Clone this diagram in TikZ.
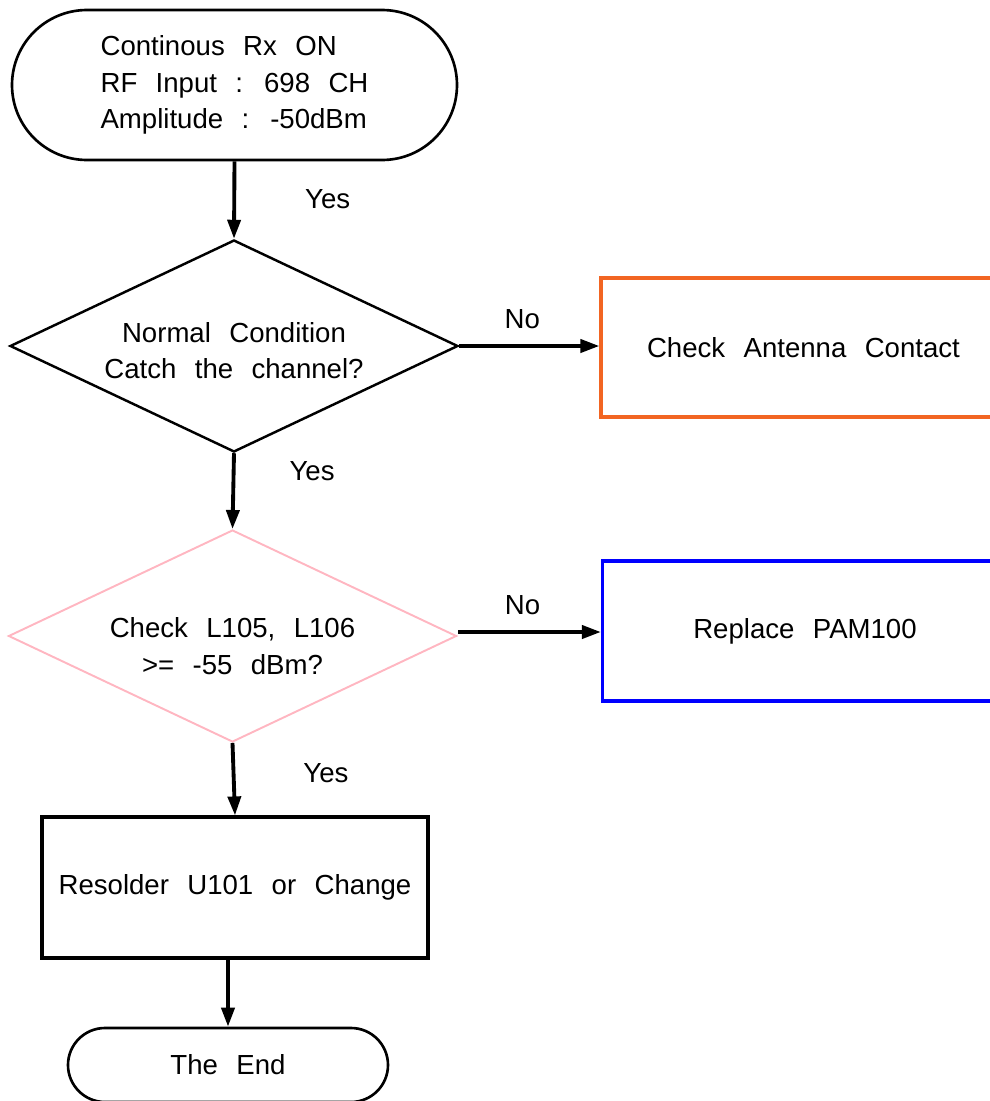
\documentclass[tikz,border=0pt]{standalone}
\usepackage{fontspec}
\setmainfont[WordSpace=2.4]{Liberation Sans}
\usepackage{tikz}
\usetikzlibrary{arrows.meta,positioning,shapes.geometric,shapes.misc}
\definecolor{cInk}{HTML}{000000}
\definecolor{cOrange}{HTML}{F26522}
\definecolor{cBlue}{HTML}{0000FF}
\definecolor{cPink}{HTML}{FFB6C1}
\newcommand{\flowfont}{\fontsize{15.7}{20.8}\selectfont}
\tikzset{
  term/.style={draw=cInk,rounded rectangle,line width=1.5pt,align=center,font=\flowfont,inner sep=0pt},
  dbox/.style={draw=#1,diamond,aspect=2.1,line width=1.4pt,inner sep=0pt,minimum width=8.96cm,minimum height=4.24cm},
  dbox/.default=cInk,
  pbox/.style={draw=#1,rectangle,line width=1.8pt,align=center,font=\flowfont,inner sep=0pt},
  pbox/.default=cInk,
  arr/.style={-{Triangle[length=0.38cm,width=0.26cm]},line width=2.2pt,color=cInk},
  lbl/.style={font=\flowfont,text=cInk,inner sep=0pt,align=center},
}

\begin{document}
\begin{tikzpicture}[x=1cm,y=1cm]
    \useasboundingbox (0,0) rectangle (19.8,-22.02);
    \clip (0,0) rectangle (19.8,-22.02);
    % flow column
    \node[term,minimum width=8.9cm,minimum height=3cm,align=left] (start) at (4.69,-1.70) {Continous Rx ON\\RF Input : 698 CH\\Amplitude : -50dBm};
    \node[dbox] (cond) at (4.68,-6.92) {};
    \node[lbl] (condtxt) at ([yshift=-0.09cm]cond.center) {Normal Condition\\Catch the channel?};
    \node[dbox=cPink,line width=1.1pt] (check) at (4.65,-12.72) {};
    \node[lbl] (checktxt) at ([yshift=-0.2cm]check.center) {Check L105, L106\\>= -55 dBm?};
    \node[pbox,minimum width=7.72cm,minimum height=2.82cm] (resolder) at (4.70,-17.75) {Resolder U101 or Change};
    \node[term,minimum width=6.4cm,minimum height=1.48cm] (theend) at (4.56,-21.30) {The End};
    % repair boxes
    \node[pbox=cOrange,minimum width=8.1cm,minimum height=2.78cm] (antenna) at (16.07,-6.95) {Check Antenna Contact};
    \node[pbox=cBlue,minimum width=8.1cm,minimum height=2.8cm] (pam) at (16.1,-12.62) {Replace PAM100};
    % connectors
    \draw[arr] (start.south) -- (cond.north) node[lbl,pos=0.49,right=1.38cm] (yes1) {Yes};
    \draw[arr] (cond.south) -- (check.north) node[lbl,pos=0.24,right=1.08cm] (yes2) {Yes};
    \draw[arr] (check.south) -- (resolder.north) node[lbl,pos=0.42,right=1.36cm] (yes3) {Yes};
    \draw[arr] (resolder.south -| theend.north) -- (theend.north);
    \draw[arr] (cond.east) -- (cond.east -| antenna.west) node[lbl,pos=0.45,above=0.3cm] (no1) {No};
    \coordinate (ce) at ([xshift=0.02cm,yshift=0.08cm]check.east);
    \draw[arr] (ce) -- (ce -| pam.west) node[lbl,pos=0.45,above=0.3cm] (no2) {No};
\end{tikzpicture}
\end{document}
